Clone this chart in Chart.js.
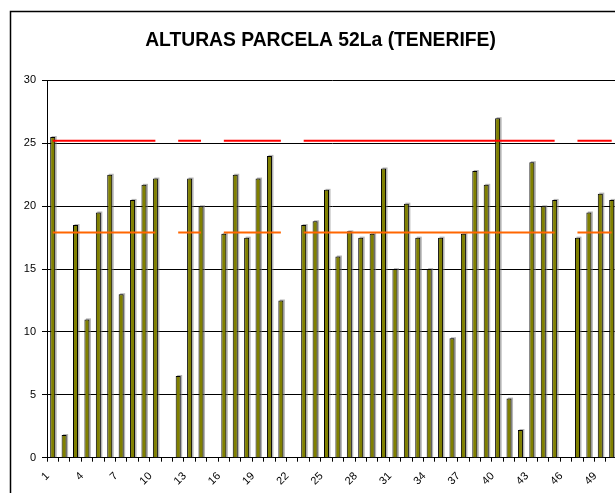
<!DOCTYPE html>
<html>
<head>
<meta charset="utf-8">
<script src="https://cdn.jsdelivr.net/npm/chart.js@4.4.1/dist/chart.umd.min.js"></script>
<style>
  html, body { margin: 0; padding: 0; background: #fff; overflow: hidden; width: 615px; height: 493px; }
  #wrap { position: absolute; left: 0; top: 0; width: 640px; height: 510px; }
  canvas { display: block; }
</style>
</head>
<body>
<div id="wrap"><canvas id="c" width="640" height="510" style="width:640px;height:510px"></canvas></div>
<script>
// ---- data ----
const categories = [1,2,3,4,5,6,7,8,9,10,11,12,13,14,15,16,17,18,19,20,21,22,23,24,25,26,27,28,29,30,31,32,33,34,35,36,37,38,39,40,41,42,43,44,45,46,47,48,49,50];
const alturas = [25.5,1.8,18.5,11.0,19.5,22.5,13.0,20.5,21.7,22.2,
                 null,6.5,22.2,20.0,null,17.8,22.5,17.5,22.2,24.0,
                 12.5,null,18.5,18.8,21.3,16.0,18.0,17.5,17.8,23.0,
                 15.0,20.2,17.5,15.0,17.5,9.5,17.8,22.8,21.7,27.0,
                 4.7,2.2,23.5,20.0,20.5,null,17.5,19.5,21.0,20.5];
const lineaRoja = [25.2,25.2,25.2,25.2,25.2,25.2,25.2,25.2,25.2,25.2,
                   null,25.2,25.2,25.2,null,25.2,25.2,25.2,25.2,25.2,
                   25.2,null,25.2,25.2,25.2,25.2,25.2,25.2,25.2,25.2,
                   25.2,25.2,25.2,25.2,25.2,25.2,25.2,25.2,25.2,25.2,
                   25.2,25.2,25.2,25.2,25.2,null,25.2,25.2,25.2,25.2];
const lineaNaranja = [17.9,17.9,17.9,17.9,17.9,17.9,17.9,17.9,17.9,17.9,
                      null,17.9,17.9,17.9,null,17.9,17.9,17.9,17.9,17.9,
                      17.9,null,17.9,17.9,17.9,17.9,17.9,17.9,17.9,17.9,
                      17.9,17.9,17.9,17.9,17.9,17.9,17.9,17.9,17.9,17.9,
                      17.9,17.9,17.9,17.9,17.9,null,17.9,17.9,17.9,17.9];
const shownTickLabels = ['1','4','7','10','13','16','19','22','25','28','31','34','37','40','43','46','49'];
const yTicks = [0,5,10,15,20,25,30];
const titleText = 'ALTURAS PARCELA 52La (TENERIFE)';

const FONT = "'Liberation Sans', Arial, sans-serif";

const framePlugin = {
  id: 'frame',
  beforeDraw(chart) {
    const ctx = chart.ctx;
    ctx.save();
    ctx.fillStyle = '#fff';
    ctx.fillRect(0, 0, chart.width, chart.height);
    ctx.strokeStyle = '#000';
    ctx.lineWidth = 1.5;
    ctx.strokeRect(10.5, 11.5, chart.width + 20, chart.height + 20);
    ctx.restore();
  }
};

const shadowPlugin = {
  id: 'barShadow',
  beforeDatasetDraw(chart, args) {
    const meta = args.meta;
    if (meta.type !== 'bar') return;
    const ctx = chart.ctx;
    ctx.save();
    ctx.fillStyle = 'rgba(120,120,120,0.55)';
    meta.data.forEach((el, i) => {
      if (alturas[i] == null) return;
      const p = el.getProps(['x','y','base','width'], true);
      ctx.fillRect(p.x - p.width/2 + 1.5, p.y - 1, p.width, p.base - p.y + 1);
    });
    ctx.restore();
  }
};

new Chart(document.getElementById('c'), {
  type: 'bar',
  data: {
    labels: categories.map(String),
    datasets: [
      {
        type: 'line', data: lineaRoja, borderColor: '#FF0000', borderWidth: 2,
        pointRadius: 0, spanGaps: false, fill: false, order: 0, tension: 0
      },
      {
        type: 'line', data: lineaNaranja, borderColor: '#FF6600', borderWidth: 2,
        pointRadius: 0, spanGaps: false, fill: false, order: 0, tension: 0
      },
      {
        type: 'bar', data: alturas, backgroundColor: '#808000', borderColor: '#000',
        borderWidth: 1, barPercentage: 0.44, categoryPercentage: 1.0, order: 1
      }
    ]
  },
  options: {
    responsive: false,
    animation: false,
    devicePixelRatio: 1,
    events: [],
    layout: { padding: { left: 23.6, right: 22.6, top: 0, bottom: 0 } },
    plugins: {
      legend: { display: false },
      tooltip: { enabled: false },
      title: {
        display: true, text: titleText, color: '#000',
        font: { family: FONT, size: 19.3, weight: 'bold', lineHeight: 1.2 },
        padding: { top: 29, bottom: 28.3 }
      }
    },
    scales: {
      x: {
        offset: true,
        grid: { display: true, offset: true, drawOnChartArea: false, drawTicks: true, tickLength: 4, color: '#000', lineWidth: 1 },
        border: { display: true, color: '#000', width: 1 },
        ticks: {
          autoSkip: false, minRotation: 45, maxRotation: 45, color: '#000',
          font: { family: FONT, size: 11 }, padding: 8, labelOffset: -5,
          callback: function(v, i) { const l = this.getLabelForValue(v); return shownTickLabels.includes(l) ? l : ''; }
        },
        afterFit(scale) { scale.height = 510 - 457.7; }
      },
      y: {
        min: 0, max: 30,
        afterBuildTicks(scale) { scale.ticks = yTicks.map(v => ({ value: v })); },
        grid: { color: '#000', lineWidth: 1, drawTicks: true, tickLength: 5, tickColor: '#000' },
        border: { display: true, color: '#000', width: 1 },
        ticks: { color: '#000', font: { family: FONT, size: 11 }, padding: 6 },
        afterFit(scale) { scale.width = 23.4; }
      }
    }
  },
  plugins: [framePlugin, shadowPlugin]
});
</script>
</body>
</html>
